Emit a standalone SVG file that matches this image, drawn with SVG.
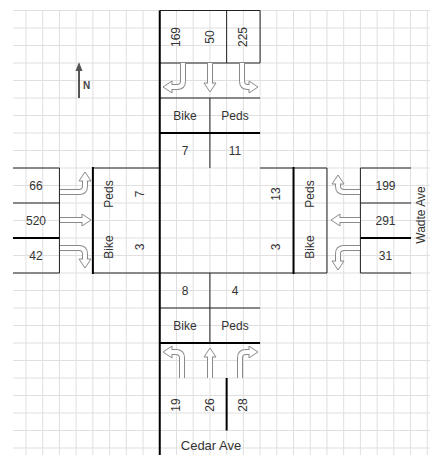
<svg xmlns="http://www.w3.org/2000/svg" width="430" height="455" viewBox="0 0 430 455">
<style>
.grid{stroke:#dfdfdf;stroke-width:1;fill:none}
.thin{stroke:#222;stroke-width:1;fill:none}
.thick{stroke:#000;stroke-width:2;fill:none}
.t{font-family:"Liberation Sans",Arial,sans-serif;font-size:12px;fill:#333;text-anchor:middle}
.so{stroke:#8a8a8a;stroke-width:6;fill:none}
.si{stroke:#fff;stroke-width:4;fill:none}
.hd{fill:#fff;stroke:#8a8a8a;stroke-width:1}
</style>
<defs>
<polygon id="ah" class="hd" points="0,0 -9,-6 -9,6"/>
</defs>
<rect width="430" height="455" fill="#fff"/>
<g id="grid" class="grid">
<path d="M26,10.5V455M42.72,10.5V455M59.44,10.5V455M76.16,10.5V455M92.88,10.5V455M109.6,10.5V455M126.32,10.5V455M143.04,10.5V455M159.76,10.5V455M176.48,10.5V455M193.2,10.5V455M209.92,10.5V455M226.64,10.5V455M243.36,10.5V455M260.08,10.5V455M276.8,10.5V455M293.52,10.5V455M310.24,10.5V455M326.96,10.5V455M343.68,10.5V455M360.4,10.5V455M377.12,10.5V455M393.84,10.5V455M410.56,10.5V455M427.28,10.5V455"/>
<path d="M13,10.5H430M13,28H430M13,45.5H430M13,63H430M13,80.5H430M13,98H430M13,115.5H430M13,133H430M13,150.5H430M13,168H430M13,185.5H430M13,203H430M13,220.5H430M13,238H430M13,255.5H430M13,273H430M13,290.5H430M13,308H430M13,325.5H430M13,343H430M13,360.5H430M13,378H430M13,395.5H430M13,413H430M13,430.5H430M13,448H430"/>
</g>
<g id="compass">
<line x1="79" y1="98" x2="79" y2="69" stroke="#555" stroke-width="2"/>
<polygon points="79,62 75.5,71 82.5,71" fill="#555"/>
<text x="83" y="89" style="font-family:'Liberation Sans',Arial,sans-serif;font-size:10px;font-weight:bold;fill:#444">N</text>
</g>
<g id="north-approach">
<path class="thin" d="M159.76,10.5H260.08V63H159.76M226.64,10.5V63M159.76,98H260.08M209.92,98V168"/>
<path class="thick" d="M159.76,133H260.08"/>
<text class="t" transform="translate(176,37) rotate(-90)" y="4">169</text>
<text class="t" transform="translate(210,37) rotate(-90)" y="4">50</text>
<text class="t" transform="translate(243,37) rotate(-90)" y="4">225</text>
<text class="t" x="185" y="120">Bike</text>
<text class="t" x="235" y="120">Peds</text>
<text class="t" x="185" y="155">7</text>
<text class="t" x="235" y="155">11</text>
</g>
<g id="west-approach">
<path class="thin" d="M13,168H59.44V273H13M13,203H59.44M92.88,168H159.76M92.88,273H159.76"/>
<path class="thick" d="M13,238H59.44M92.88,167V274"/>
<text class="t" x="36" y="190">66</text>
<text class="t" x="36" y="225">520</text>
<text class="t" x="36" y="260">42</text>
<text class="t" transform="translate(109,194) rotate(-90)" y="4">Peds</text>
<text class="t" transform="translate(109,247) rotate(-90)" y="4">Bike</text>
<text class="t" transform="translate(140,194) rotate(-90)" y="4">7</text>
<text class="t" transform="translate(140,247) rotate(-90)" y="4">3</text>
</g>
<g id="east-approach">
<path class="thin" d="M260.08,168H326.96V273H260.08M360.4,168H411M360.4,168V273H411M360.4,203H411"/>
<path class="thick" d="M360.4,238H411M293.52,167V274"/>
<text class="t" transform="translate(276,194) rotate(-90)" y="4">13</text>
<text class="t" transform="translate(276,247) rotate(-90)" y="4">3</text>
<text class="t" transform="translate(310,194) rotate(-90)" y="4">Peds</text>
<text class="t" transform="translate(310,247) rotate(-90)" y="4">Bike</text>
<text class="t" x="385.5" y="190">199</text>
<text class="t" x="385.5" y="225">291</text>
<text class="t" x="385.5" y="260">31</text>
<text class="t" transform="translate(421,215) rotate(-90)" y="4">Wadte Ave</text>
</g>
<g id="south-approach">
<path class="thin" d="M159.76,273H260.08M159.76,308H260.08M209.92,273V343"/>
<path class="thick" d="M159.76,343H260.08M226.64,378V430.5"/>
<text class="t" x="185" y="295">8</text>
<text class="t" x="235" y="295">4</text>
<text class="t" x="185" y="330">Bike</text>
<text class="t" x="235" y="330">Peds</text>
<text class="t" transform="translate(176,405) rotate(-90)" y="4">19</text>
<text class="t" transform="translate(210,405) rotate(-90)" y="4">26</text>
<text class="t" transform="translate(243,405) rotate(-90)" y="4">28</text>
<text class="t" x="211" y="450" style="font-size:13px">Cedar Ave</text>
</g>
<g id="connectors">
<path class="thick" d="M159.76,10.5V455"/>
<g id="sb-arrows">
<path class="so" d="M183,63V81Q183,87 177,87H169"/><use href="#ah" transform="translate(163,87) rotate(180)"/><path class="si" d="M183,63V81Q183,87 177,87H169"/>
<path class="so" d="M210,63V86"/><use href="#ah" transform="translate(210,92) rotate(90)"/><path class="si" d="M210,63V86"/>
<path class="so" d="M242,63V81Q242,87 248,87H252"/><use href="#ah" transform="translate(258,87)"/><path class="si" d="M242,63V81Q242,87 248,87H252"/>
</g>
<g id="eb-arrows">
<path class="so" d="M60,192H79Q85,192 85,186V178"/><use href="#ah" transform="translate(85,172) rotate(-90)"/><path class="si" d="M60,192H79Q85,192 85,186V178"/>
<path class="so" d="M60,220H85"/><use href="#ah" transform="translate(91,220)"/><path class="si" d="M60,220H85"/>
<path class="so" d="M60,248H79Q85,248 85,254V262"/><use href="#ah" transform="translate(85,268) rotate(90)"/><path class="si" d="M60,248H79Q85,248 85,254V262"/>
</g>
<g id="wb-arrows">
<path class="so" d="M360,192H344Q338,192 338,186V181"/><use href="#ah" transform="translate(338,175) rotate(-90)"/><path class="si" d="M360,192H344Q338,192 338,186V181"/>
<path class="so" d="M360,220H337"/><use href="#ah" transform="translate(331,220) rotate(180)"/><path class="si" d="M360,220H337"/>
<path class="so" d="M360,248H344Q338,248 338,254V264"/><use href="#ah" transform="translate(338,270) rotate(90)"/><path class="si" d="M360,248H344Q338,248 338,254V264"/>
</g>
<g id="nb-arrows">
<path class="so" d="M182,378V358Q182,352 176,352H169"/><use href="#ah" transform="translate(163,352) rotate(180)"/><path class="si" d="M182,378V358Q182,352 176,352H169"/>
<path class="so" d="M210,378V354"/><use href="#ah" transform="translate(210,348) rotate(-90)"/><path class="si" d="M210,378V354"/>
<path class="so" d="M240,378V358Q240,352 246,352H252"/><use href="#ah" transform="translate(258,352)"/><path class="si" d="M240,378V358Q240,352 246,352H252"/>
</g>
</g>
</svg>
